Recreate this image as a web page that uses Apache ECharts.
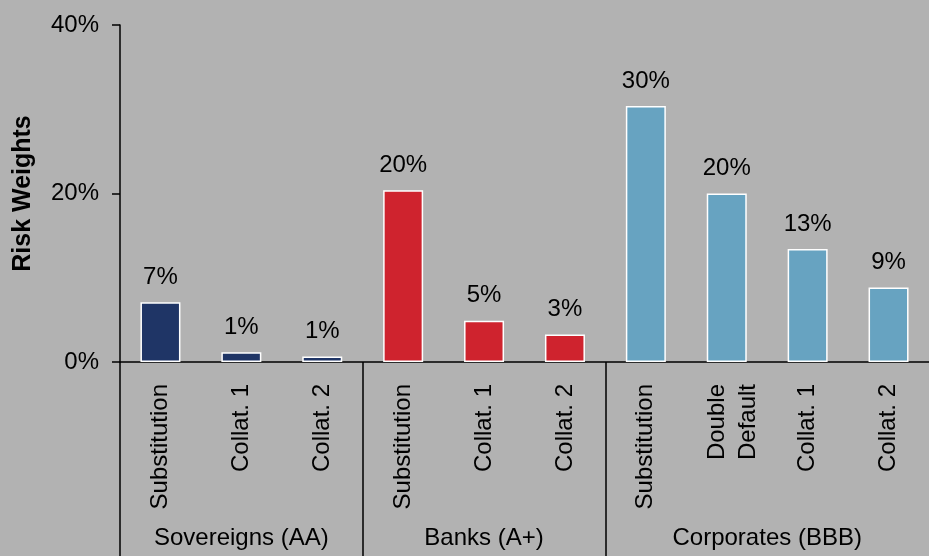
<!DOCTYPE html>
<html>
<head>
<meta charset="utf-8">
<title>Risk Weights</title>
<script src="https://cdn.jsdelivr.net/npm/echarts@6/dist/echarts.min.js"></script>
<style>
html, body { margin: 0; padding: 0; background: #b2b2b2; }
#riskChart { width: 929px; height: 556px; }
</style>
</head>
<body>
<div id="riskChart"></div>
<script>
// 柱子类别
var categories = ['Substitution', 'Collat. 1', 'Collat. 2', 'Substitution', 'Collat. 1', 'Collat. 2', 'Substitution', 'Double\nDefault', 'Collat. 1', 'Collat. 2']
// 风险权重 (%)
var riskWeights = [7.1, 1.15, 0.65, 20.4, 4.9, 3.25, 30.4, 20.0, 13.4, 8.85]
var barColors = ['#1f3566', '#1f3566', '#1f3566', '#cf232e', '#cf232e', '#cf232e', '#67a3c1', '#67a3c1', '#67a3c1', '#67a3c1']
var groupNames = ['Sovereigns (AA)', 'Banks (A+)', 'Corporates (BBB)']
var groupCenters = [1.5, 4.5, 8]
var groupBounds = [0, 3, 6]
var yTicks = [0, 20, 40]

var chart = echarts.init(document.getElementById('riskChart'))
var fontFamily = 'Liberation Sans, Arial, sans-serif'

chart.setOption({
  backgroundColor: '#b2b2b2',
  animation: false,
  grid: {
    left: 120,
    right: -11,
    top: 25,
    bottom: 194,
    containLabel: false
  },
  xAxis: [{
    type: 'category',
    data: categories,
    axisLine: { show: true, lineStyle: { color: '#000', width: 1.5 } },
    axisTick: { show: false },
    axisLabel: {
      interval: 0,
      rotate: 90,
      margin: 22,
      fontSize: 24,
      lineHeight: 31,
      color: '#000',
      fontFamily: fontFamily,
      formatter: function (v) {
        // 两行标签稍微右移
        return v.indexOf('\n') > -1 ? '{pad| }\n' + v : v
      },
      rich: {
        pad: { fontSize: 10, lineHeight: 12 }
      }
    }
  }, {
    // 分组标签和分隔线
    type: 'value',
    position: 'bottom',
    min: 0,
    max: 10,
    axisLine: { show: false },
    splitLine: { show: false },
    axisTick: {
      show: true,
      customValues: groupBounds,
      length: 194,
      lineStyle: { color: '#000', width: 1.5 }
    },
    axisLabel: {
      customValues: groupCenters,
      margin: 164,
      fontSize: 24,
      color: '#000',
      fontFamily: fontFamily,
      formatter: function (v) {
        return groupNames[groupCenters.indexOf(v)]
      }
    }
  }],
  yAxis: {
    type: 'value',
    min: yTicks[0],
    max: yTicks[yTicks.length - 1],
    interval: 20,
    name: 'Risk Weights',
    nameLocation: 'middle',
    nameGap: 84,
    nameTextStyle: {
      fontSize: 25,
      fontWeight: 'bold',
      color: '#000',
      fontFamily: fontFamily
    },
    axisLine: { show: true, lineStyle: { color: '#000', width: 1.5 } },
    axisTick: { show: true, length: 8, lineStyle: { color: '#000', width: 1.5 } },
    splitLine: { show: false },
    axisLabel: {
      margin: 21,
      fontSize: 24,
      color: '#000',
      fontFamily: fontFamily,
      formatter: '{value}%'
    }
  },
  series: [{
    type: 'bar',
    xAxisIndex: 0,
    barWidth: 40,
    data: riskWeights.map(function (v, i) {
      return { value: v, itemStyle: { color: barColors[i] } }
    }),
    itemStyle: {
      borderColor: '#fff',
      borderWidth: 1.5
    },
    label: {
      show: true,
      position: 'top',
      distance: 13,
      fontSize: 24,
      color: '#000',
      fontFamily: fontFamily,
      formatter: function (p) {
        return Math.round(p.value) + '%'
      }
    }
  }]
})
</script>
</body>
</html>
